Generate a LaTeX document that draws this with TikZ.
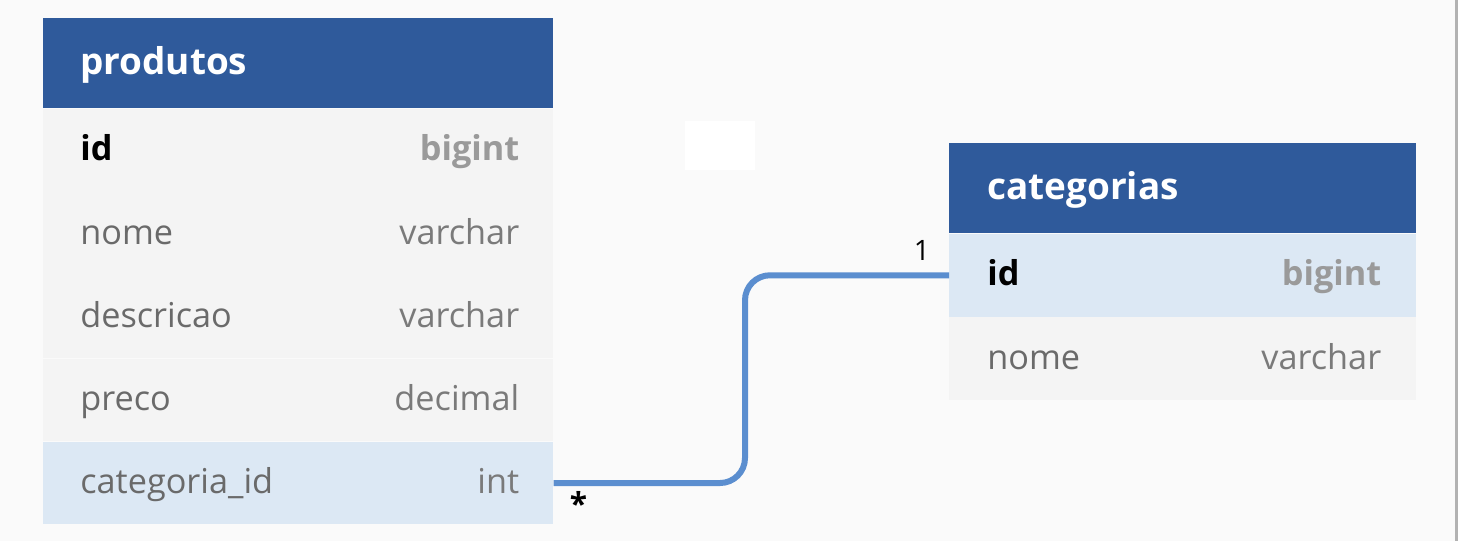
\documentclass[tikz,border=0pt]{standalone}
\usepackage{fontspec}
\setmainfont{Open Sans}
\usetikzlibrary{positioning}
\definecolor{headblue}{HTML}{2F5A9B}
\definecolor{rowgray}{HTML}{F4F4F4}
\definecolor{keyblue}{HTML}{DCE8F4}
\definecolor{pagebg}{HTML}{FAFAFA}
\definecolor{relblue}{HTML}{5B8ECF}
\definecolor{namegray}{HTML}{6A6A6A}
\definecolor{typegray}{HTML}{7A7A7A}
\definecolor{keygray}{HTML}{9A9A9A}

\begin{document}
\begin{tikzpicture}[x=0.02cm, y=-0.02cm,
  tblhead/.style={fill=headblue, minimum height=1.8cm, inner sep=0pt, anchor=north west},
  tblrow/.style={fill=rowgray, minimum height=1.65cm, inner sep=0pt},
  headtxt/.style={font=\fontsize{21}{24}\selectfont\bfseries, text=white, anchor=west,
                  text height=1.6ex, text depth=.3ex, inner sep=0pt, yshift=-0.1cm},
  fieldtxt/.style={font=\fontsize{19.5}{22}\selectfont, text=namegray, anchor=west,
                   text height=1.6ex, text depth=.3ex, inner sep=0pt, yshift=-0.09cm},
  typetxt/.style={font=\fontsize{19.5}{22}\selectfont, text=typegray, anchor=east,
                  text height=1.6ex, text depth=.3ex, inner sep=0pt, yshift=-0.09cm},
  keyname/.style={fieldtxt, font=\fontsize{19.5}{22}\selectfont\bfseries, text=black},
  keytype/.style={typetxt, font=\fontsize{19.5}{22}\selectfont\bfseries, text=keygray},
  cardtxt/.style={font=\fontsize{16}{18}\selectfont, text=black, inner sep=0pt}
]
  % Page
  \fill[pagebg] (0,0) rectangle (1458,541);
  \useasboundingbox (0,0) rectangle (1458,541);
  \fill[black!30] (1455,0) rectangle (1458,541);
  \fill[white] (685,121) rectangle (755,170);

  % Table produtos
  \node[tblhead, minimum width=10.2cm] (prodhead) at (43,18) {};
  \node[tblrow, minimum width=10.2cm, below=0pt of prodhead] (prodid) {};
  \node[tblrow, minimum width=10.2cm, below=0pt of prodid] (prodnome) {};
  \node[tblrow, minimum width=10.2cm, below=0pt of prodnome] (proddesc) {};
  \node[tblrow, minimum width=10.2cm, below=0pt of proddesc] (prodpreco) {};
  \node[tblrow, minimum width=10.2cm, fill=keyblue, below=0pt of prodpreco] (prodcat) {};

  \node[headtxt] at ([xshift=0.74cm]prodhead.west) {produtos};
  \node[keyname] at ([xshift=0.74cm]prodid.west) {id};
  \node[keytype] at ([xshift=-0.68cm]prodid.east) {bigint};
  \node[fieldtxt] at ([xshift=0.74cm]prodnome.west) {nome};
  \node[typetxt] at ([xshift=-0.68cm]prodnome.east) {varchar};
  \node[fieldtxt] at ([xshift=0.74cm]proddesc.west) {descricao};
  \node[typetxt] at ([xshift=-0.68cm]proddesc.east) {varchar};
  \node[fieldtxt] at ([xshift=0.74cm]prodpreco.west) {preco};
  \node[typetxt] at ([xshift=-0.68cm]prodpreco.east) {decimal};
  \node[fieldtxt] at ([xshift=0.74cm]prodcat.west) {categoria\_id};
  \node[typetxt] at ([xshift=-0.68cm]prodcat.east) {int};

  % Table categorias
  \node[tblhead, minimum width=9.34cm] (cathead) at (949,143) {};
  \node[tblrow, minimum width=9.34cm, fill=keyblue, below=0pt of cathead] (catid) {};
  \node[tblrow, minimum width=9.34cm, below=0pt of catid] (catnome) {};

  \node[headtxt] at ([xshift=0.76cm]cathead.west) {categorias};
  \node[keyname] at ([xshift=0.76cm]catid.west) {id};
  \node[keytype] at ([xshift=-0.7cm]catid.east) {bigint};
  \node[fieldtxt] at ([xshift=0.76cm]catnome.west) {nome};
  \node[typetxt] at ([xshift=-0.7cm]catnome.east) {varchar};

  % Relation
  \coordinate (bend) at (745,0);
  \draw[relblue, line width=0.12cm, rounded corners=0.5cm]
    (prodcat.east) -- (prodcat.east -| bend) -- (bend |- catid.west) -- (catid.west);
  \node[cardtxt, font=\fontsize{18}{20}\selectfont\bfseries] (manyend) at ([xshift=0.5cm, yshift=-0.4cm]prodcat.east) {*};
  \node[cardtxt] (oneend) at ([xshift=-0.54cm, yshift=0.5cm]catid.west) {1};
\end{tikzpicture}
\end{document}
